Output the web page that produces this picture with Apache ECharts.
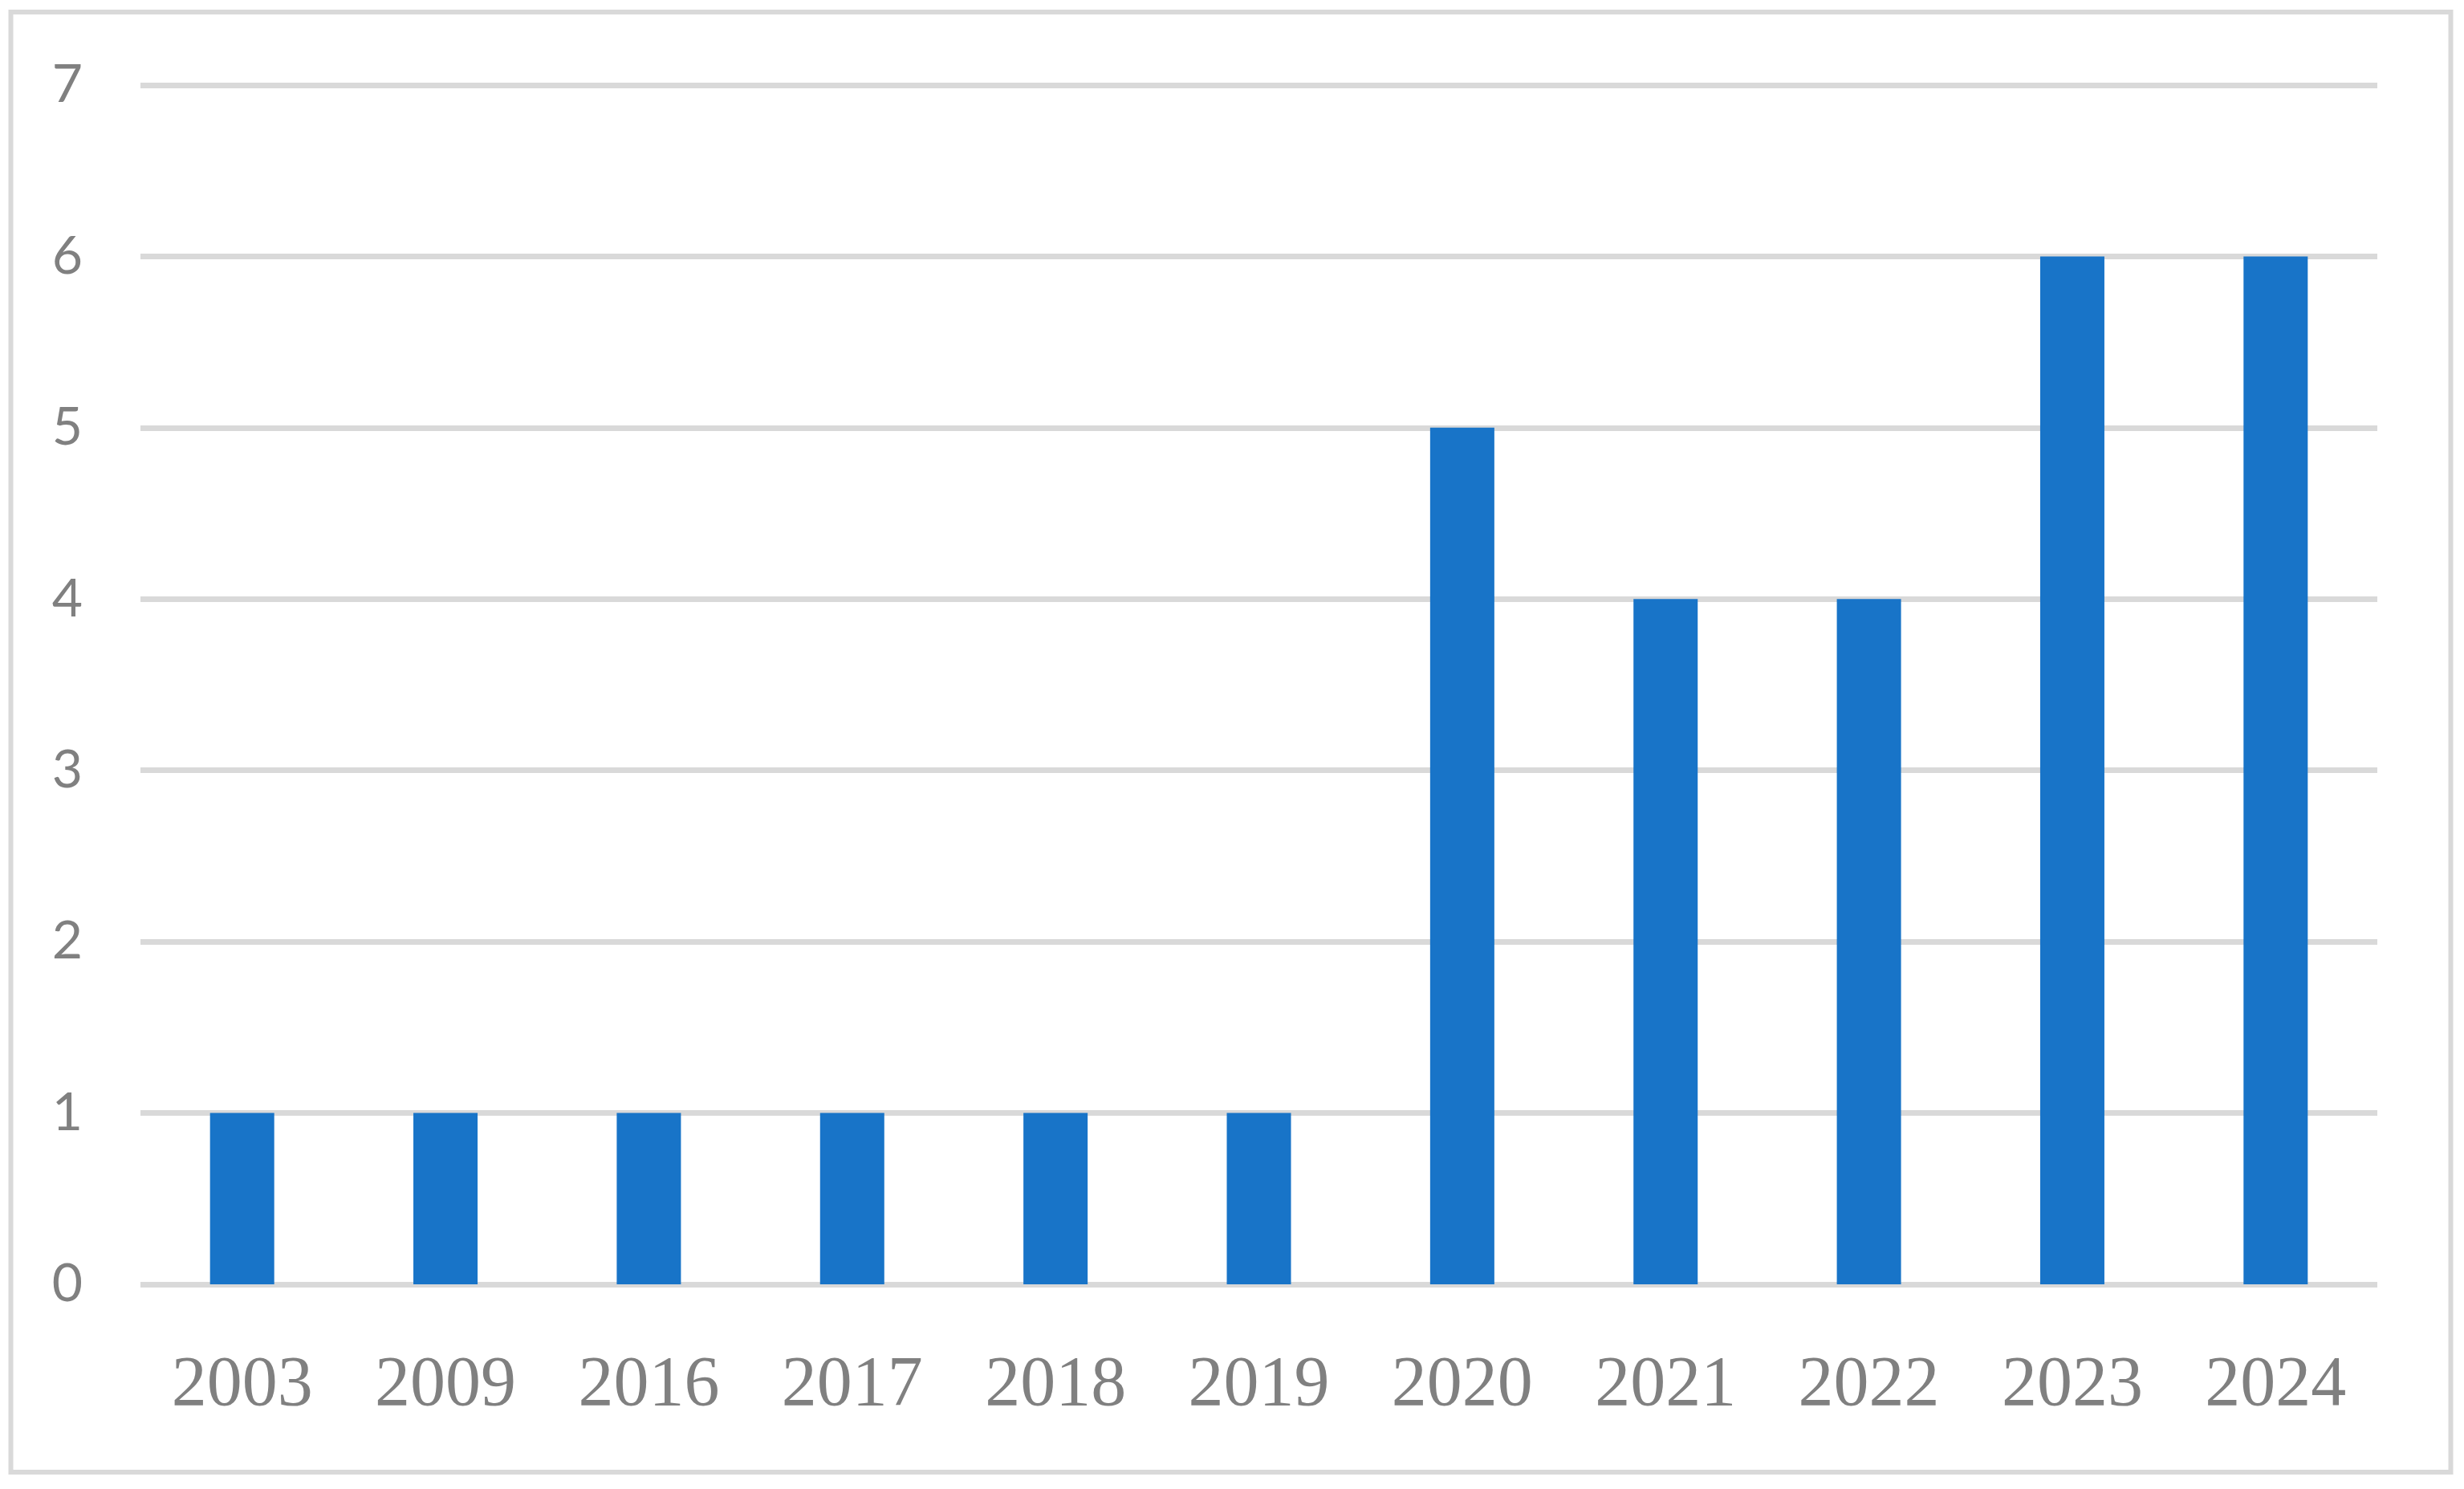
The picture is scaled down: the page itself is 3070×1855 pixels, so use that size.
<!DOCTYPE html>
<html>
<head>
<meta charset="utf-8">
<script src="https://cdn.jsdelivr.net/npm/echarts@6/dist/echarts.min.js"></script>
<style>
html,body{margin:0;padding:0;background:#fff;}
#chart{width:3070px;height:1855px;}
</style>
</head>
<body>
<div id="chart"></div>
<script>
const categories = ['2003','2009','2016','2017','2018','2019','2020','2021','2022','2023','2024'];
const values = [1,1,1,1,1,1,5,4,4,6,6];
const yMin = 0, yMax = 7, yInterval = 1;

const chart = echarts.init(document.getElementById('chart'), null, {renderer:'canvas'});
chart.setOption({
  animation:false,
  backgroundColor:'#ffffff',
  graphic:[{
    type:'rect',
    shape:{x:13.5,y:15,width:3040,height:1819},
    style:{fill:'none',stroke:'#d9d9d9',lineWidth:6},
    silent:true
  }],
  grid:{left:175,right:108,top:106,bottom:255,containLabel:false},
  xAxis:{
    type:'category',
    data:categories,
    axisLine:{show:false},
    axisTick:{show:false},
    axisLabel:{
      color:'#808080',
      fontFamily:'"Liberation Serif", serif',
      fontSize:88,
      margin:83
    }
  },
  yAxis:{
    type:'value',
    min:yMin,max:yMax,interval:yInterval,
    axisLine:{show:false},
    axisTick:{show:false},
    splitLine:{show:true,lineStyle:{color:'#d9d9d9',width:7}},
    axisLabel:{
      color:'#808080',
      fontFamily:'Lato, "Noto Sans", sans-serif',
      fontSize:66,
      margin:72
    }
  },
  series:[{
    type:'bar',
    data:values,
    barWidth:80,
    itemStyle:{color:'#1874C8'}
  }]
});
</script>
</body>
</html>
